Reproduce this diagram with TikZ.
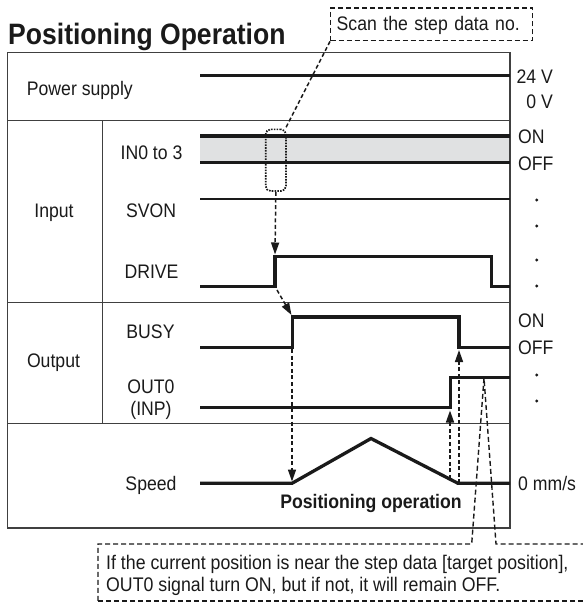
\documentclass[tikz,border=0pt]{standalone}
\usepackage{fontspec}
\setmainfont{Liberation Sans}[FakeStretch=0.9]
\usetikzlibrary{arrows.meta,calc}
\definecolor{ink}{HTML}{1A1A1A}
\definecolor{framecol}{HTML}{404040}
\definecolor{band}{HTML}{E0E1E2}
\tikzset{
  lbl/.style={inner sep=0pt, font=\fontsize{19.6}{23}\selectfont, text=ink},
  sig/.style={line width=3.3pt, draw=ink, line join=miter},
  frm/.style={line width=1.2pt, draw=framecol},
  lead/.style={line width=1.5pt, draw=ink, dash pattern=on 4pt off 2.6pt},
  notedash/.style={line width=1.4pt, draw=ink, dash pattern=on 5pt off 3pt},
  tipd/.style={-{Triangle[length=12pt,width=8pt]}},
  dotbox/.style={draw=ink, line width=1.7pt, dash pattern=on 1.6pt off 1.2pt,
    rounded corners=5pt, minimum width=20.3pt, minimum height=61.7pt, inner sep=0pt},
  dotmark/.style={fill=ink}
}
\begin{document}
\begin{tikzpicture}[x=1pt,y=-1pt]
\useasboundingbox (0,0) rectangle (582,602);

% title
\node[lbl, font=\fontsize{29.5}{34}\selectfont\bfseries, anchor=base west] (title) at (8,45) {Positioning Operation};

% grey band of IN0 to 3
\fill[band] (200,136) rectangle (510,162.7);

% frame
\draw[frm] (7.3,52.7) rectangle (510,528);
\draw[frm] (7.3,120.7) -- (510,120.7);
\draw[frm] (7.3,302.3) -- (510,302.3);
\draw[frm] (7.3,423.3) -- (510,423.3);
\draw[frm] (102.3,120.7) -- (102.3,423.3);

% group and signal labels
\node[lbl, anchor=base west] (pwr) at (26.7,95.7) {Power supply};
\node[lbl, anchor=base] (inp) at (54,217) {Input};
\node[lbl, anchor=base] (outp) at (53.5,367.7) {Output};
\node[lbl, anchor=base] (in0) at (151.5,159) {IN0 to 3};
\node[lbl, anchor=base] (svon) at (151,217.7) {SVON};
\node[lbl, anchor=base] (drive) at (151.5,278.7) {DRIVE};
\node[lbl, anchor=base] (busy) at (150.5,338.7) {BUSY};
\node[lbl, anchor=base] (out0) at (151,393.7) {OUT0};
\node[lbl, anchor=base] (inpl) at (151,415) {(INP)};
\node[lbl, anchor=base] (speed) at (151,490.3) {Speed};

% right-hand labels
\node[lbl, anchor=base east] (v24) at (553,83) {24 V};
\node[lbl, anchor=base east] (v0) at (553,108.7) {0 V};
\node[lbl, anchor=base west] (on1) at (518,143) {ON};
\node[lbl, anchor=base west] (off1) at (518,170) {OFF};
\node[lbl, anchor=base west] (on2) at (518,327.7) {ON};
\node[lbl, anchor=base west] (off2) at (518,354) {OFF};
\node[lbl, anchor=base west] (mms) at (518,490.3) {0 mm/s};
\foreach \yy in {200,226,260,286,375,401}
  \fill[dotmark] (536.7,\yy) circle (1.7pt);

% signals
\draw[sig] (200,75.3) -- (510,75.3);
\draw[sig] (200,136) -- (510,136);
\draw[sig] (200,162.7) -- (510,162.7);
\draw[sig, line width=2.6pt] (200,199) -- (510,199);
\draw[sig] (200,286.7) -- (275,286.7) -- (275,256.5) -- (491.7,256.5) -- (491.7,286.7) -- (510,286.7);
\draw[sig] (200,347.3) -- (292.5,347.3) -- (292.5,317) -- (459,317) -- (459,347.3) -- (510,347.3);
\draw[sig] (200,407.5) -- (450.5,407.5) -- (450.5,377.8) -- (510,377.8);
\draw[sig] (200,483.3) -- (292,483.3) -- (371,438.5) -- (458,483.3) -- (510,483.3);

\node[lbl, font=\fontsize{19.6}{23}\selectfont\bfseries, anchor=base] (posop) at (371,508.5) {Positioning operation};

% key points
\coordinate (drvtop) at (275,254.5);
\coordinate (drvbot) at (277,290);
\coordinate (busytop) at (291.5,315);
\coordinate (busybot) at (292,349);
\coordinate (spdstart) at (292,481.5);
\coordinate (spdA) at (450,479);
\coordinate (out0rise) at (450,410.5);
\coordinate (spdB) at (459,483.3);
\coordinate (busyfall) at (459,350);
\coordinate (cpt) at (484,378);

% scan box and selection box
\node[notedash, lbl, anchor=north west, minimum width=201.7pt, minimum height=32.7pt,
      text width=189.7pt, inner xsep=6pt, inner ysep=0pt, align=left,
      text height=14pt, text depth=1pt] (scan) at (330,7.3) {Scan the step data no.};
\node[dotbox] (sel) at (275.8,160.2) {};
\draw[lead] (scan.south west) -- ($(sel.north east)+(-1.5,0.3)$);

% dashed arrows
\draw[lead, tipd] (sel.south) -- (drvtop);
\draw[lead, tipd] (drvbot) -- (busytop);
\draw[lead, tipd] (busybot) -- (spdstart);
\draw[lead, tipd] (spdA) -- (out0rise);
\draw[lead, tipd] (spdB) -- (busyfall);

% note box with callout
\draw[notedash] (98,600.8) -- (98,544) -- (471.7,544) -- (cpt) -- (496,544) -- (586,544);
\draw[notedash] (98,600.8) -- (586,600.8);
\node[lbl, font=\fontsize{19.7}{23}\selectfont, anchor=base west] (note1) at (106,569) {If the current position is near the step data [target position],};
\node[lbl, font=\fontsize{19.7}{23}\selectfont, anchor=base west] (note2) at (106,591) {OUT0 signal turn ON, but if not, it will remain OFF.};
\end{tikzpicture}
\end{document}
